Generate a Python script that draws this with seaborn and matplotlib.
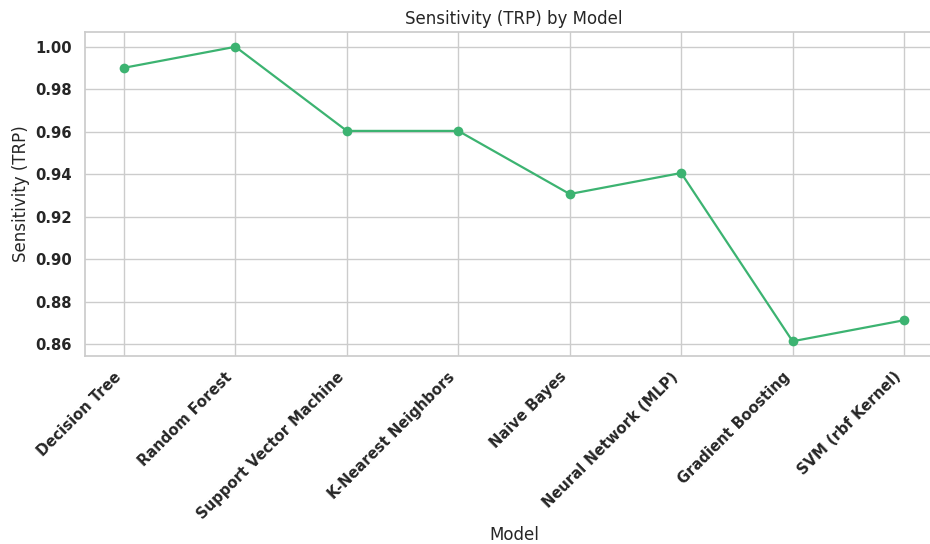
import matplotlib
matplotlib.use("Agg")
import matplotlib.pyplot as plt
import seaborn as sns
import pandas as pd

models = ["Decision Tree", "Random Forest", "Support Vector Machine", "K-Nearest Neighbors",
          "Naive Bayes", "Neural Network (MLP)", "Gradient Boosting", "SVM (rbf Kernel)"]
sensitivity = [0.9901, 1.0000, 0.9604, 0.9604, 0.9307, 0.9406, 0.8614, 0.8713]

df = pd.DataFrame({"Model": models, "Sensitivity (TRP)": sensitivity})

sns.set_theme(style="whitegrid")
fig = plt.figure(figsize=(9.3, 5.44), dpi=100)
ax = fig.add_axes([0.0914, 0.3456, 0.9226, 0.5955])
sns.lineplot(data=df, x="Model", y="Sensitivity (TRP)", marker="o", color="mediumseagreen",
             markersize=7, markeredgewidth=0, linewidth=1.6, ax=ax, sort=False)
ax.set_title("Sensitivity (TRP) by Model", fontsize=12)
ax.set_xlabel("Model", fontsize=12, labelpad=3)
ax.set_ylabel("Sensitivity (TRP)", fontsize=12)
plt.setp(ax.get_xticklabels(), rotation=45, ha="right", fontweight="bold", fontsize=10.6)
plt.setp(ax.get_yticklabels(), fontweight="bold", fontsize=10.6)
fig.savefig("out.png", dpi=100)
